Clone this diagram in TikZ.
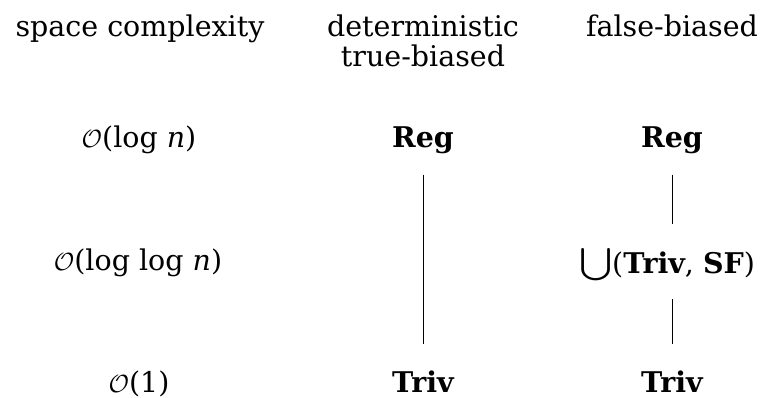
\documentclass[tikz,border=0pt]{standalone}
\usepackage{fontspec}
\usepackage{exscale}
\usepackage{graphicx}
\setmainfont{DejaVu Serif}
\newcommand{\unionsym}{\raisebox{0pt}{\scalebox{1.6}[1.3]{$\bigcup$}}}
\begin{document}
\begin{tikzpicture}[x=1pt,y=-1pt,
  lbl/.style={anchor=base,inner sep=0pt,font=\fontsize{28.5}{30}\selectfont},
  cls/.style={lbl,font=\fontsize{28.5}{30}\selectfont\bfseries},
  link/.style={line width=0.8pt}]
\useasboundingbox (0,0) rectangle (762,398);
% column headers
\node[lbl] (hspace) at (140,37) {space complexity};
\node[lbl,align=center] (hdet) at (423,67) {deterministic\\true-biased};
\node[lbl] (hfalse) at (672,37) {false-biased};
% space bounds
\node[lbl] (slog) at (139,148) {$\mathcal{O}$(log \textit{n})};
\node[lbl] (sloglog) at (138,270) {$\mathcal{O}$(log log \textit{n})};
\node[lbl] (sconst) at (139,392) {$\mathcal{O}$(1)};
% deterministic true-biased column
\node[cls] (reg1) at (423,148) {Reg};
\node[cls] (triv1) at (423,392) {Triv};
% false-biased column
\node[cls] (reg2) at (672,148) {Reg};
\node[lbl] (cup) at (667,273) {\unionsym(\textbf{Triv}, \textbf{SF})};
\node[cls] (triv2) at (672,392) {Triv};
% inclusions
\draw[link,shorten <=20pt,shorten >=26pt] (reg1) -- (triv1);
\draw[link,shorten <=20pt] (reg2) -- ([yshift=25pt]reg2 |- cup.north);
\draw[link,shorten >=26pt] ([yshift=-18pt]reg2 |- cup.south) -- (triv2);
\end{tikzpicture}
\end{document}
